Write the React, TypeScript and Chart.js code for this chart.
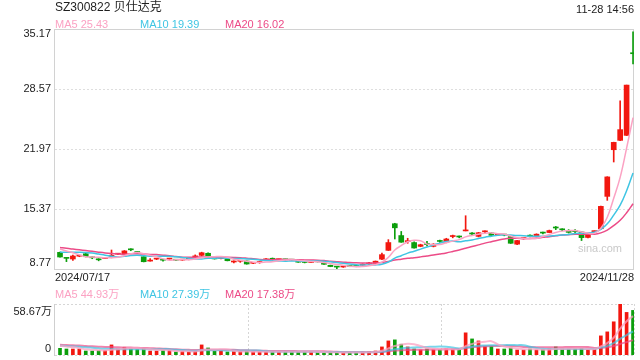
import React, { useEffect, useRef } from 'react';
import { Chart, registerables } from 'chart.js';

Chart.register(...registerables);

const FONT = '"Liberation Sans", Arial, "Noto Sans CJK SC", sans-serif';
const UP = '#f2170f';
const DOWN = '#0c9e0c';
const MA_COLORS = ['#fba2c3', '#3fc5e3', '#ec4b87'];
const MA_COLORS_VOL = ['rgba(251,162,195,0.75)', 'rgba(63,197,227,0.7)', 'rgba(236,75,135,0.7)'];

const title = 'SZ300822 贝仕达克';
const timeLabel = '11-28 14:56';
const priceLegend = ['MA5 25.43', 'MA10 19.39', 'MA20 16.02'];
const volLegend = ['MA5 44.93万', 'MA10 27.39万', 'MA20 17.38万'];
const startDate = '2024/07/17';
const endDate = '2024/11/28';
const priceTicks = ['35.17', '28.57', '21.97', '15.37', '8.77'];
const volTicks = ['58.67万', '0'];
const volMax = 58.67;
const watermark = 'sina.com';

// daily candles, 2024/07/17 .. 2024/11/28 (90 sessions)
const opens = [
  10.60, 9.96, 9.87, 10.18, 10.45, 10.02, 9.80, 9.92, 10.18, 10.40,
  10.45, 10.90, 10.62, 10.12, 9.64, 9.86, 9.76, 9.86, 9.76, 9.75,
  9.83, 10.10, 10.27, 10.50, 10.00, 9.92, 9.90, 9.54, 9.62, 9.65,
  9.40, 9.48, 9.78, 9.86, 9.80, 9.80, 9.76, 9.68, 9.51, 9.49,
  9.58, 9.43, 9.18, 9.00, 8.99, 9.07, 9.07, 9.18, 9.34, 9.40,
  9.85, 10.82, 13.75, 12.45, 11.78, 11.68, 11.26, 11.48, 11.26, 11.82,
  11.72, 12.34, 12.31, 12.96, 12.64, 12.36, 12.86, 12.73, 12.50, 12.52,
  12.33, 11.50, 12.12, 12.40, 12.38, 12.74, 12.78, 13.30, 13.10, 12.94,
  12.90, 12.84, 12.24, 12.88, 13.20, 16.76, 21.89, 22.92, 23.47, 32.50,
];
const highs = [
  10.62, 9.97, 10.31, 10.30, 10.50, 10.12, 9.90, 9.98, 10.86, 10.48,
  10.80, 11.00, 10.68, 10.14, 9.92, 9.92, 9.80, 9.94, 9.82, 9.80,
  9.90, 10.32, 10.62, 10.56, 10.02, 9.98, 9.92, 9.66, 9.72, 9.67,
  9.46, 9.60, 9.92, 9.98, 9.86, 9.84, 9.80, 9.70, 9.56, 9.56,
  9.62, 9.45, 9.20, 9.06, 9.05, 9.12, 9.12, 9.34, 9.50, 9.65,
  10.53, 12.00, 13.80, 12.90, 12.15, 11.75, 11.50, 11.80, 11.56, 11.95,
  12.15, 12.50, 12.40, 14.63, 12.78, 12.80, 12.96, 12.75, 12.58, 12.58,
  12.36, 11.92, 12.22, 12.52, 12.64, 12.84, 13.05, 13.45, 13.20, 13.10,
  13.10, 12.86, 12.64, 12.96, 15.70, 18.92, 22.72, 27.28, 29.00, 34.85,
];
const lows = [
  10.06, 9.58, 9.72, 10.12, 10.10, 9.90, 9.67, 9.90, 10.00, 10.36,
  10.42, 10.78, 10.50, 9.55, 9.64, 9.80, 9.62, 9.84, 9.68, 9.72,
  9.78, 10.05, 10.22, 10.18, 9.86, 9.88, 9.66, 9.44, 9.50, 9.30,
  9.36, 9.40, 9.70, 9.76, 9.76, 9.74, 9.72, 9.50, 9.44, 9.46,
  9.54, 9.27, 9.02, 8.77, 8.95, 9.02, 9.02, 9.10, 9.28, 9.36,
  9.79, 10.80, 12.07, 11.70, 11.60, 11.05, 11.22, 11.30, 11.20, 11.70,
  11.65, 12.20, 12.20, 12.96, 12.55, 12.30, 12.78, 12.45, 12.44, 12.42,
  11.58, 11.46, 12.06, 12.30, 12.36, 12.62, 12.76, 13.10, 12.98, 12.72,
  12.68, 11.90, 12.20, 12.84, 13.15, 16.32, 20.54, 22.90, 23.45, 31.32,
];
const closes = [
  10.09, 9.94, 10.20, 10.22, 10.12, 10.00, 9.78, 9.94, 10.22, 10.43,
  10.76, 10.88, 10.58, 9.57, 9.66, 9.88, 9.74, 9.88, 9.74, 9.77,
  9.85, 10.14, 10.56, 10.20, 9.88, 9.94, 9.68, 9.56, 9.64, 9.32,
  9.42, 9.50, 9.80, 9.84, 9.82, 9.78, 9.74, 9.52, 9.49, 9.51,
  9.56, 9.29, 9.04, 8.98, 9.01, 9.05, 9.05, 9.20, 9.36, 9.63,
  10.35, 11.68, 13.30, 11.72, 11.82, 11.08, 11.44, 11.46, 11.50, 11.80,
  12.07, 12.36, 12.29, 12.98, 12.62, 12.76, 12.88, 12.47, 12.54, 12.50,
  11.60, 11.90, 12.16, 12.38, 12.60, 12.72, 13.00, 13.28, 13.08, 12.80,
  12.88, 12.22, 12.62, 12.90, 15.66, 18.90, 22.70, 24.10, 29.00, 32.45,
];
// volume, in 万 (10k) shares
const volumes = [
  7.7, 6.9, 6.9, 6.9, 4.6, 4.6, 5.0, 5.0, 11.6, 6.9,
  8.9, 6.9, 6.2, 7.7, 4.6, 4.6, 5.0, 5.0, 3.5, 3.9,
  3.5, 4.2, 11.6, 8.1, 4.2, 4.6, 3.5, 3.9, 3.9, 4.2,
  3.5, 3.5, 3.5, 3.9, 3.9, 3.5, 3.9, 3.9, 3.5, 3.9,
  2.7, 2.7, 3.1, 2.7, 2.7, 2.7, 2.7, 3.5, 4.2, 4.6,
  9.3, 16.2, 17.4, 12.4, 9.3, 6.9, 5.8, 6.9, 6.6, 6.2,
  6.9, 6.6, 6.2, 25.5, 18.5, 16.2, 9.7, 9.7, 6.9, 6.9,
  8.1, 5.8, 5.8, 6.9, 5.8, 6.2, 6.9, 9.3, 6.9, 6.9,
  6.9, 7.7, 6.2, 6.2, 22.0, 26.6, 38.2, 58.67, 49.0, 51.3,
];
// sessions just before the window (needed for the moving averages at the left edge)
const priorCloses = [
  12.0, 11.9, 11.8, 11.7, 11.7, 11.6, 11.6, 11.5, 11.4, 11.4,
  10.2, 10.3, 10.2, 10.4, 10.4, 11.0, 11.2, 11.3, 11.26,
];
const priorVolumes = [
  14, 13, 12, 15, 12, 11, 13, 12, 14, 12,
  10, 12, 11, 9, 11, 12, 10, 13, 11,
];

function movingAvg(prior: number[], vals: number[], n: number): number[] {
  const all = prior.concat(vals);
  const off = prior.length;
  return vals.map((_, i) => {
    let s = 0;
    for (let k = off + i - n + 1; k <= off + i; k++) s += all[k];
    return s / n;
  });
}

const X_MIN = -0.777;
const X_MAX = 89.15;

function dottedH(ctx: CanvasRenderingContext2D, x0: number, x1: number, y: number) {
  ctx.beginPath();
  ctx.moveTo(x0, Math.round(y) + 0.5);
  ctx.lineTo(x1, Math.round(y) + 0.5);
  ctx.stroke();
}
function dottedV(ctx: CanvasRenderingContext2D, x: number, y0: number, y1: number) {
  ctx.beginPath();
  ctx.moveTo(Math.round(x) + 0.5, y0);
  ctx.lineTo(Math.round(x) + 0.5, y1);
  ctx.stroke();
}

export default function App() {
  const priceRef = useRef<HTMLCanvasElement>(null);
  const volRef = useRef<HTMLCanvasElement>(null);

  useEffect(() => {
    const idx = closes.map((_, i) => i);
    const colors = idx.map((i) => (closes[i] >= opens[i] ? UP : DOWN));
    const maPeriods = [5, 10, 20];
    const priceMA = maPeriods.map((n) => movingAvg(priorCloses, closes, n));
    const volMA = maPeriods.map((n) => movingAvg(priorVolumes, volumes, n));

    const pricePlugin = {
      id: 'priceDecor',
      beforeDatasetsDraw(chart: any) {
        const { ctx, chartArea: a, scales } = chart;
        const y = scales.y;
        ctx.save();
        ctx.strokeStyle = '#dedede';
        ctx.lineWidth = 1;
        ctx.setLineDash([2, 2]);
        priceTicks.slice(1, -1).forEach((t) => dottedH(ctx, a.left, a.right, y.getPixelForValue(parseFloat(t))));
        ctx.setLineDash([]);
        ctx.strokeStyle = '#d2d2d2';
        ctx.strokeRect(a.left - 0.5, a.top + 0.5, a.right - a.left + 0, a.bottom - a.top);
        ctx.fillStyle = '#c9c9c9';
        ctx.font = '11px ' + FONT;
        ctx.textAlign = 'right';
        ctx.textBaseline = 'middle';
        ctx.fillText(watermark, a.right - 12, a.bottom - 20);
        ctx.restore();
      },
      afterDraw(chart: any) {
        const { ctx, chartArea: a, scales } = chart;
        const y = scales.y;
        ctx.save();
        ctx.fillStyle = '#222';
        ctx.font = '11px ' + FONT;
        ctx.textAlign = 'right';
        ctx.textBaseline = 'middle';
        priceTicks.forEach((t, k) => {
          let py = y.getPixelForValue(parseFloat(t));
          if (k === 0) py += 5;
          else if (k === priceTicks.length - 1) py -= 6;
          ctx.fillText(t, a.left - 4, py);
        });
        ctx.textAlign = 'left';
        ctx.fillText(startDate, a.left, a.bottom + 9);
        ctx.textAlign = 'right';
        ctx.fillText(endDate, a.right, a.bottom + 9);
        ctx.restore();
      },
    };

    const priceChart = new Chart(priceRef.current as HTMLCanvasElement, {
      type: 'bar',
      data: {
        datasets: [
          ...[0, 1, 2].map((k) => ({
            type: 'line' as const,
            data: idx.map((i) => ({ x: i, y: priceMA[k][i] })),
            borderColor: MA_COLORS[k],
            borderWidth: 1.5,
            pointRadius: 0,
            tension: 0.4,
            fill: false,
            order: k,
          })),
          {
            type: 'bar' as const,
            data: idx.map((i) => ({ x: i, y: [opens[i], closes[i]] })),
            backgroundColor: colors,
            borderWidth: 0,
            barThickness: 5,
            minBarLength: 1,
            grouped: false,
            order: 5,
          },
          {
            type: 'bar' as const,
            data: idx.map((i) => ({ x: i, y: [lows[i], highs[i]] })),
            backgroundColor: colors,
            borderWidth: 0,
            barThickness: 1,
            minBarLength: 1,
            grouped: false,
            order: 6,
          },
        ],
      } as any,
      options: {
        animation: false,
        responsive: false,
        devicePixelRatio: 1,
        layout: { padding: { left: 55, top: 29, right: 6, bottom: 16 } },
        plugins: { legend: { display: false }, tooltip: { enabled: false } },
        scales: {
          x: { type: 'linear', min: X_MIN, max: X_MAX, offset: false, display: false },
          y: { type: 'linear', min: parseFloat(priceTicks[4]), max: parseFloat(priceTicks[0]), display: false },
        },
      } as any,
      plugins: [pricePlugin],
    });

    const volPlugin = {
      id: 'volDecor',
      beforeDatasetsDraw(chart: any) {
        const { ctx, chartArea: a } = chart;
        ctx.save();
        ctx.strokeStyle = '#d6d6d6';
        ctx.lineWidth = 1;
        ctx.setLineDash([2, 2]);
        dottedH(ctx, a.left, a.right, a.top);
        dottedH(ctx, a.left, a.right, a.bottom);
        dottedV(ctx, a.right, a.top, a.bottom);
        const w = a.right - a.left;
        dottedV(ctx, a.left + w / 3, a.top, a.bottom);
        dottedV(ctx, a.left + (2 * w) / 3, a.top, a.bottom);
        ctx.setLineDash([]);
        ctx.strokeStyle = '#cfcfcf';
        ctx.beginPath();
        ctx.moveTo(a.left - 0.5, a.top);
        ctx.lineTo(a.left - 0.5, a.bottom + 1);
        ctx.stroke();
        ctx.restore();
      },
      afterDraw(chart: any) {
        const { ctx, chartArea: a, scales } = chart;
        const y = scales.y;
        ctx.save();
        ctx.fillStyle = '#222';
        ctx.font = '11px ' + FONT;
        ctx.textAlign = 'right';
        ctx.textBaseline = 'middle';
        ctx.fillText(volTicks[0], a.left - 3, y.getPixelForValue(volMax) + 7.5);
        ctx.fillText(volTicks[1], a.left - 4, y.getPixelForValue(0) - 6.5);
        ctx.restore();
      },
    };

    const volChart = new Chart(volRef.current as HTMLCanvasElement, {
      type: 'bar',
      data: {
        datasets: [
          ...[0, 1, 2].map((k) => ({
            type: 'line' as const,
            data: idx.map((i) => ({ x: i, y: volMA[k][i] })),
            borderColor: MA_COLORS_VOL[k],
            borderWidth: 2,
            pointRadius: 0,
            tension: 0.4,
            fill: false,
            order: k,
          })),
          {
            type: 'bar' as const,
            data: idx.map((i) => ({ x: i, y: volumes[i] })),
            backgroundColor: colors,
            borderWidth: 0,
            barThickness: 3,
            grouped: false,
            order: 5,
          },
        ],
      } as any,
      options: {
        animation: false,
        responsive: false,
        devicePixelRatio: 1,
        layout: { padding: { left: 55, top: 19, right: 6, bottom: 5 } },
        plugins: { legend: { display: false }, tooltip: { enabled: false } },
        scales: {
          x: { type: 'linear', min: X_MIN, max: X_MAX, offset: false, display: false },
          y: { type: 'linear', min: 0, max: volMax, display: false },
        },
      } as any,
      plugins: [volPlugin],
    });

    return () => {
      priceChart.destroy();
      volChart.destroy();
    };
  }, []);

  const legendLefts = [55, 140, 225];
  return (
    <div
      style={{
        position: 'absolute',
        left: 0,
        top: 0,
        width: 640,
        height: 360,
        overflow: 'hidden',
        background: '#fff',
        fontFamily: FONT,
      }}
    >
      <canvas ref={priceRef} width={640} height={285} style={{ position: 'absolute', left: 0, top: 0, width: 640, height: 285 }} />
      <canvas ref={volRef} width={640} height={75} style={{ position: 'absolute', left: 0, top: 285, width: 640, height: 75 }} />
      <div style={{ position: 'absolute', left: 55, top: 1, fontSize: 12, lineHeight: '13px', color: '#1e1e1e', whiteSpace: 'nowrap' }}>{title}</div>
      <div style={{ position: 'absolute', right: 6, top: 3, fontSize: 11, lineHeight: '12px', color: '#222', whiteSpace: 'nowrap' }}>{timeLabel}</div>
      {priceLegend.map((t, k) => (
        <div key={'p' + k} style={{ position: 'absolute', left: legendLefts[k], top: 18, fontSize: 11, lineHeight: '12px', color: MA_COLORS[k], whiteSpace: 'nowrap' }}>{t}</div>
      ))}
      {volLegend.map((t, k) => (
        <div key={'v' + k} style={{ position: 'absolute', left: legendLefts[k], top: 288, fontSize: 11, lineHeight: '12px', color: MA_COLORS[k], whiteSpace: 'nowrap' }}>{t}</div>
      ))}
    </div>
  );
}
